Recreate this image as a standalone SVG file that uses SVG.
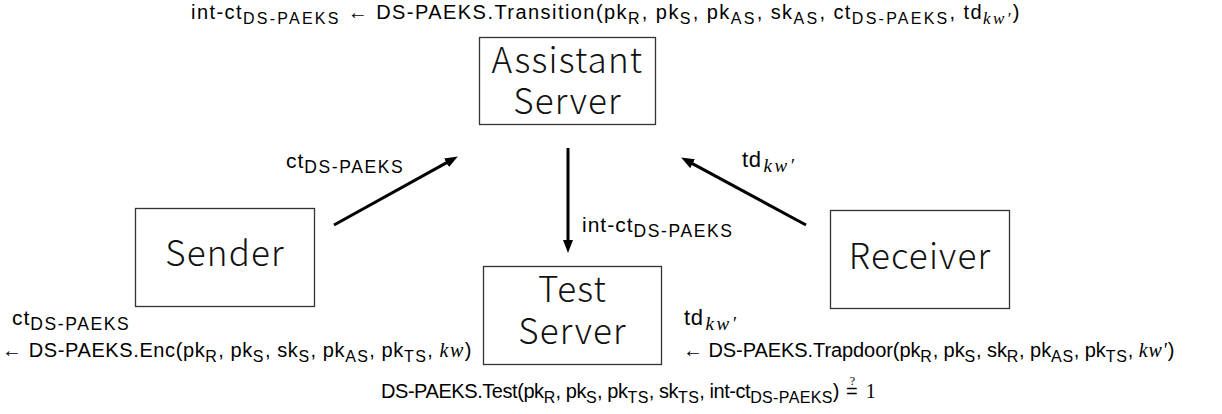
<svg xmlns="http://www.w3.org/2000/svg" width="1222" height="414" viewBox="0 0 1222 414">
<style>
.box{fill:#fff;stroke:#333;stroke-width:1.3}
.n{font-family:"Noto Sans CJK JP","DejaVu Sans",sans-serif;font-weight:300;font-size:35px;fill:#111;text-anchor:middle;letter-spacing:1.2px}
.m{font-family:"Liberation Sans","DejaVu Sans",sans-serif;font-size:20px;fill:#000;letter-spacing:0.6px}
.l{font-size:21px;letter-spacing:1px}
.s{font-size:16px;letter-spacing:1.4px}
.ls{font-size:17.5px;letter-spacing:1.6px}
.i{font-family:"Liberation Serif","DejaVu Serif",serif;font-style:italic;letter-spacing:1.5px}
.si{font-size:17px}
.lsi{font-size:19px;letter-spacing:2.5px}
.c{stroke:#000;stroke-width:3;fill:none}
</style>
<defs>
<marker id="ah" markerUnits="userSpaceOnUse" markerWidth="13" markerHeight="10" refX="7" refY="5" orient="auto">
<path d="M0,0 L13,5 L0,10 z" fill="#000"/>
</marker>
</defs>

<g id="connectors">
<line class="c" x1="334" y1="225" x2="452.6" y2="159.4" marker-end="url(#ah)"/>
<line class="c" x1="568" y1="148" x2="568" y2="247" marker-end="url(#ah)"/>
<line class="c" x1="806" y1="225" x2="686.4" y2="160.4" marker-end="url(#ah)"/>
<text class="m l" x="286" y="168">ct<tspan class="ls" dy="5">DS-PAEKS</tspan></text>
<text class="m l" x="582" y="232">int-ct<tspan class="ls" dy="5">DS-PAEKS</tspan></text>
<text class="m" x="742" y="167" style="font-size:22px">td<tspan class="i lsi" dx="2" dy="5">kw′</tspan></text>
</g>

<g id="assistant-server">
<rect class="box" x="479.5" y="37.5" width="176" height="87"/>
<text class="n" x="567.5" y="73">Assistant<tspan x="567.5" dy="41">Server</tspan></text>
</g>

<g id="sender">
<rect class="box" x="135.5" y="208.5" width="179" height="98"/>
<text class="n" x="225" y="266">Sender</text>
</g>

<g id="test-server">
<rect class="box" x="483.5" y="266.5" width="178" height="98"/>
<text class="n" x="572.5" y="302">Test<tspan x="572.5" dy="42">Server</tspan></text>
</g>

<g id="receiver">
<rect class="box" x="830.5" y="210.5" width="179" height="98"/>
<text class="n" x="920" y="269">Receiver</text>
</g>

<g id="annotations">
<text class="m" x="191" y="19" textLength="829" lengthAdjust="spacing">int-ct<tspan class="s" dy="5">DS-PAEKS</tspan><tspan dy="-5"> ← DS-PAEKS.Transition(pk</tspan><tspan class="s" dy="5">R</tspan><tspan dy="-5">, pk</tspan><tspan class="s" dy="5">S</tspan><tspan dy="-5">, pk</tspan><tspan class="s" dy="5">AS</tspan><tspan dy="-5">, sk</tspan><tspan class="s" dy="5">AS</tspan><tspan dy="-5">, ct</tspan><tspan class="s" dy="5">DS-PAEKS</tspan><tspan dy="-5">, td</tspan><tspan class="i si" dy="5">kw′</tspan><tspan dy="-5">)</tspan></text>

<text class="m l" x="12" y="325">ct<tspan class="ls" dy="5">DS-PAEKS</tspan></text>
<text class="m" x="2" y="357" textLength="470" lengthAdjust="spacing">← DS-PAEKS.Enc(pk<tspan class="s" dy="5">R</tspan><tspan dy="-5">, pk</tspan><tspan class="s" dy="5">S</tspan><tspan dy="-5">, sk</tspan><tspan class="s" dy="5">S</tspan><tspan dy="-5">, pk</tspan><tspan class="s" dy="5">AS</tspan><tspan dy="-5">, pk</tspan><tspan class="s" dy="5">TS</tspan><tspan dy="-5">, </tspan><tspan class="i">kw</tspan><tspan>)</tspan></text>

<text class="m" x="684" y="325" style="font-size:22px">td<tspan class="i lsi" dx="2" dy="5">kw′</tspan></text>
<text class="m" x="683" y="357" textLength="492" lengthAdjust="spacing">← DS-PAEKS.Trapdoor(pk<tspan class="s" dy="5">R</tspan><tspan dy="-5">, pk</tspan><tspan class="s" dy="5">S</tspan><tspan dy="-5">, sk</tspan><tspan class="s" dy="5">R</tspan><tspan dy="-5">, pk</tspan><tspan class="s" dy="5">AS</tspan><tspan dy="-5">, pk</tspan><tspan class="s" dy="5">TS</tspan><tspan dy="-5">, </tspan><tspan class="i">kw′</tspan><tspan>)</tspan></text>

<text class="m" x="381" y="398" textLength="459" lengthAdjust="spacing">DS-PAEKS.Test(pk<tspan class="s" dy="5">R</tspan><tspan dy="-5">, pk</tspan><tspan class="s" dy="5">S</tspan><tspan dy="-5">, pk</tspan><tspan class="s" dy="5">TS</tspan><tspan dy="-5">, sk</tspan><tspan class="s" dy="5">TS</tspan><tspan dy="-5">, int-ct</tspan><tspan class="s" dy="5">DS-PAEKS</tspan><tspan dy="-5">)</tspan></text>
<text class="m" x="846" y="398">=<tspan dx="-8.5" dy="-13" style="font-size:12px;font-family:'Liberation Serif',serif">?</tspan><tspan dx="10" dy="13" style="font-family:'Liberation Serif',serif">1</tspan></text>
</g>
</svg>
